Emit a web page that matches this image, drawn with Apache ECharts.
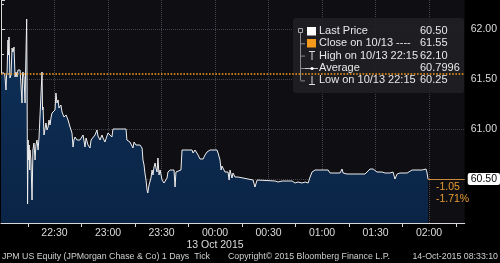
<!DOCTYPE html>
<html><head><meta charset="utf-8">
<script src="https://cdn.jsdelivr.net/npm/echarts@6/dist/echarts.min.js"></script>
<style>html,body{margin:0;padding:0;background:#000;}#c{width:500px;height:263px;}</style>
</head><body><div id="c"></div>
<script>
// minutes after 22:00, price
const priceTicks = [
[0,61.56],[0.6,61.55],[1.7,61.56],[2.2,61.53],[2.8,61.39],[3.1,61.53],[3.4,61.57],[3.9,61.89],[4.2,61.74],[4.5,61.92],[4.8,61.69],[5.0,61.51],[5.6,61.54],[6.2,61.81],[6.7,61.77],[7.3,61.82],[7.9,61.52],[8.4,61.57],[9.0,61.52],[9.5,61.59],[10.7,61.59],[11.2,61.57],[11.8,61.26],[12.1,61.54],[12.3,61.57],[12.9,61.52],[13.5,61.26],[13.7,61.49],[14.4,62.10],[14.6,61.50],[14.9,60.25],[15.2,60.89],[15.5,60.69],[15.8,60.84],[16.1,60.59],[16.3,60.79],[16.8,60.69],[17.4,60.29],[17.7,60.59],[17.9,60.79],[18.5,60.86],[19.1,60.69],[19.6,60.84],[20.2,60.89],[20.8,60.79],[21.3,60.91],[21.9,60.89],[22.4,60.92],[23.0,61.57],[23.3,61.19],[23.6,61.22],[24.1,60.94],[24.7,60.92],[25.2,61.06],[25.8,60.99],[26.4,61.02],[26.9,61.09],[27.5,61.04],[28.0,61.11],[28.6,61.16],[29.7,61.14],[30.3,61.19],[30.8,61.36],[31.4,61.26],[32.0,61.29],[32.5,61.21],[33.1,61.19],[33.6,61.24],[34.2,61.17],[34.8,61.19],[35.3,61.12],[36.5,61.14],[37.6,61.09],[38.7,61.02],[39.3,61.04],[39.8,60.96],[40.4,60.82],[40.9,60.89],[41.5,60.92],[42.6,60.89],[43.7,60.91],
[44.3,60.89],[45.4,60.91],[46.0,60.94],[47.1,60.82],[47.7,60.91],[48.8,60.84],[49.9,60.81],[50.5,60.89],[51.6,60.91],[52.7,60.94],[53.8,60.99],[54.4,60.93],[55.5,60.89],[56.6,60.94],[57.2,60.91],[58.3,60.87],[59.4,60.93],[60.0,60.96],[61.1,60.94],[62.2,60.92],[62.8,61.00],[70.1,61.00],[70.6,60.89],[71.2,60.91],[72.3,60.87],[72.9,60.89],[74.0,60.81],[74.6,60.87],[75.7,60.84],[76.8,60.82],[77.9,60.84],[79.1,60.81],[79.6,60.69],[80.2,60.64],[80.7,60.56],[81.3,60.49],[81.9,60.39],[82.3,60.36],[83.0,60.44],[83.5,60.42],[84.1,60.51],[84.7,60.59],[85.2,60.54],[85.8,60.62],[86.4,60.66],[86.9,60.61],[87.5,60.57],[88.0,60.71],[88.6,60.54],[89.2,60.59],[90.3,60.49],[91.4,60.46],[93.1,60.51],[93.6,60.57],[94.8,60.59],[95.9,60.57],[97.0,60.59],[97.6,60.42],[98.1,60.57],[98.7,60.59],[100.9,60.59],[101.5,60.79],[107.1,60.79],[107.7,60.76],[108.8,60.79],[109.9,60.79],[110.5,60.74],[111.6,60.70],[113.3,60.70],[114.4,60.74],[115.5,60.77],[117.2,60.79],[121.1,60.79],[121.7,60.76],[122.8,60.69],[123.4,60.59],[123.9,60.63],[124.5,60.62],[125.6,60.57],[126.2,60.59],[127.3,60.57],[127.9,60.49],[128.4,60.59],[129.5,60.51],[130.1,60.56],[131.2,60.52],[132.9,60.52],[134.0,60.54],[135.7,60.51],[136.8,60.49],[141.3,60.49],[142.4,60.42],[143.6,60.49],[144.1,60.48],[153.7,60.48],[155.3,60.47],[157.6,60.48],[163.2,60.48],[164.9,60.46],[166.5,60.47],[168.8,60.46],[170.5,60.47],[172.2,60.46],[173.3,60.52],[174.4,60.57],[176.1,60.59],[177.8,60.59],[178.9,60.57],[180.6,60.59],[183.4,60.59],[184.5,60.56],[190.1,60.56],[191.2,60.60],[191.8,60.56],[194.0,60.55],[204.1,60.55],[205.2,60.57],[206.9,60.60],[208.6,60.60],[210.8,60.57],[213.7,60.57],[215.3,60.56],[218.1,60.56],[219.8,60.57],[220.9,60.50],[222.1,60.55],[223.7,60.56],[227.7,60.56],[228.2,60.57],[230.5,60.59],[236.1,60.59],[237.2,60.60],[238.3,60.60],[238.9,60.56],[239.4,60.50]
];
const xTickMinutes = [30, 60, 90, 120, 150, 180, 210, 240];
const xTickLabels = ['22:30', '23:00', '23:30', '00:00\n13 Oct 2015', '00:30', '01:00', '01:30', '02:00'];
const yTickValues = [61.0, 61.5, 62.0];
const yTickLabels = ['61.00', '61.50', '62.00'];
const legendNames = ['Last Price', 'Close on 10/13 ----', 'High on 10/13 22:15', 'Average', 'Low on 10/13 22:15'];
const legendValues = ['60.50', '61.55', '62.10', '60.7996', '60.25'];
const closePrice = 61.55;
const footerTexts = ['JPM US Equity (JPMorgan Chase & Co) 1 Days  Tick', 'Copyright\u00a9 2015 Bloomberg Finance L.P.', '14-Oct-2015 08:33:10'];

const FONT = 'Liberation Sans';
const ORANGE = '#f39a1c';
const last = priceTicks[priceTicks.length - 1];
const lastPrice = last[1];
const chg = lastPrice - closePrice;
const chgPct = chg / closePrice * 100;
const X_MAX = 260;

const chart = echarts.init(document.getElementById('c'), null, {renderer: 'canvas'});

const rowY = [31, 43.3, 55.6, 68, 80.4];
const g = [];
g.push({type: 'rect', z: 1, shape: {x: 293, y: 18, width: 171, height: 75, r: 3}, style: {fill: 'rgba(30,30,36,0.92)'}});
g.push({type: 'rect', z: 3, shape: {x: 298.5, y: 28.5, width: 4, height: 4}, style: {fill: 'none', stroke: '#a8a8a8', lineWidth: 1}});
g.push({type: 'polyline', z: 3, shape: {points: [[300.5, 33], [300.5, rowY[4]]]}, style: {stroke: '#8a8a8a', lineWidth: 1}});
for (let i = 1; i < 5; i++) {
  g.push({type: 'polyline', z: 3, shape: {points: [[300.5, rowY[i] + 0.5], [305, rowY[i] + 0.5]]}, style: {stroke: '#8a8a8a', lineWidth: 1}});
}
g.push({type: 'rect', z: 3, shape: {x: 307, y: 27, width: 9, height: 8.5}, style: {fill: '#ffffff'}});
g.push({type: 'rect', z: 3, shape: {x: 307, y: 39, width: 9, height: 8.5}, style: {fill: ORANGE}});
g.push({type: 'polyline', z: 3, shape: {points: [[309, 51.5], [315, 51.5]]}, style: {stroke: '#dddddd', lineWidth: 1}});
g.push({type: 'polyline', z: 3, shape: {points: [[312, 51.5], [312, 60]]}, style: {stroke: '#dddddd', lineWidth: 1}});
g.push({type: 'polyline', z: 3, shape: {points: [[305, 68.5], [318, 68.5]]}, style: {stroke: '#cccccc', lineWidth: 1}});
g.push({type: 'circle', z: 3, shape: {cx: 312, cy: 68.5, r: 1.6}, style: {fill: '#ffffff'}});
g.push({type: 'polyline', z: 3, shape: {points: [[312, 76], [312, 84.5]]}, style: {stroke: '#dddddd', lineWidth: 1}});
g.push({type: 'polyline', z: 3, shape: {points: [[309, 84.5], [315, 84.5]]}, style: {stroke: '#dddddd', lineWidth: 1}});
for (let i = 0; i < 5; i++) {
  g.push({type: 'text', z: 3, style: {text: legendNames[i], x: 319, y: rowY[i], fill: '#e8e8e8', fontSize: 11, fontFamily: FONT, textAlign: 'left', textVerticalAlign: 'middle'}});
  g.push({type: 'text', z: 3, style: {text: legendValues[i], x: 420, y: rowY[i], fill: '#e8e8e8', fontSize: 11, fontFamily: FONT, textAlign: 'left', textVerticalAlign: 'middle'}});
}
g.push({type: 'text', style: {text: footerTexts[0], x: 2, y: 257, fill: '#d0d0d0', fontSize: 8.8, fontFamily: FONT, textAlign: 'left', textVerticalAlign: 'middle'}});
g.push({type: 'text', style: {text: footerTexts[1], x: 228, y: 257, fill: '#d0d0d0', fontSize: 8.8, fontFamily: FONT, textAlign: 'left', textVerticalAlign: 'middle'}});
g.push({type: 'text', style: {text: footerTexts[2], x: 498, y: 257, fill: '#d0d0d0', fontSize: 8.8, fontFamily: FONT, textAlign: 'right', textVerticalAlign: 'middle'}});

const option = {
  backgroundColor: '#000',
  animation: false,
  textStyle: {fontFamily: FONT},
  grid: {left: 1, right: 35, top: 0, bottom: 40, show: true, backgroundColor: '#0f0f13', borderWidth: 0},
  xAxis: {
    type: 'value', min: 0, max: X_MAX, interval: 30,
    axisLine: {show: true, lineStyle: {color: '#d8d8d8', width: 1}},
    axisTick: {show: false},
    minorTick: {show: true, splitNumber: 2, length: 4, lineStyle: {color: '#d8d8d8'}},
    splitLine: {show: true, showMinLine: false, showMaxLine: false, lineStyle: {type: 'dotted', color: '#44444c', width: 1}},
    axisLabel: {
      color: '#dcdcdc', fontSize: 10.5, fontFamily: FONT, margin: 4, lineHeight: 12,
      showMinLabel: false, showMaxLabel: false,
      formatter: function (v) { const i = xTickMinutes.indexOf(v); return i >= 0 ? xTickLabels[i] : ''; }
    }
  },
  yAxis: {
    type: 'value', position: 'right', min: 60.06, max: 62.29, splitNumber: 5,
    axisLine: {show: true, lineStyle: {color: '#d8d8d8', width: 1}},
    axisTick: {show: true, length: 4, lineStyle: {color: '#d8d8d8'}},
    minorTick: {show: true, splitNumber: 2, length: 3, lineStyle: {color: '#d8d8d8'}},
    splitLine: {show: true, showMinLine: false, showMaxLine: false, lineStyle: {type: 'dotted', color: '#44444c', width: 1}},
    axisLabel: {
      color: '#dcdcdc', fontSize: 10.5, fontFamily: FONT, margin: 6,
      showMinLabel: false, showMaxLabel: false,
      formatter: function (v) { const i = yTickValues.findIndex(t => Math.abs(t - v) < 1e-6); return i >= 0 ? yTickLabels[i] : ''; }
    }
  },
  graphic: {elements: g},
  series: [{
    type: 'line',
    data: priceTicks,
    symbol: 'none',
    lineStyle: {color: '#eeeeee', width: 1},
    areaStyle: {color: new echarts.graphic.LinearGradient(0, 0, 0, 1, [{offset: 0, color: '#0f3158'}, {offset: 1, color: '#0a2446'}]), opacity: 1},
    markLine: {
      silent: true, symbol: ['none', 'none'], animation: false,
      data: [
        {yAxis: closePrice, lineStyle: {type: 'dotted', color: ORANGE, width: 1.6}, label: {show: false}},
        [{coord: [last[0], lastPrice], lineStyle: {type: 'solid', color: '#c98a3e', width: 1},
          label: {show: true, position: 'end', distance: 3, formatter: lastPrice.toFixed(2), color: '#000', backgroundColor: '#ffffff', padding: [1, 3, 0, 3], borderRadius: 2, fontSize: 10.5, fontFamily: FONT}},
         {coord: [X_MAX, lastPrice]}]
      ]
    },
    markPoint: {
      silent: true, animation: false,
      data: [{coord: [last[0], lastPrice], symbol: 'circle', symbolSize: 0.1, itemStyle: {color: 'rgba(0,0,0,0)'},
        label: {show: true, position: [8, 2], align: 'left', verticalAlign: 'top', lineHeight: 12,
          formatter: chg.toFixed(2) + '\n' + chgPct.toFixed(2) + '%', color: '#e59b2e', fontSize: 10.5, fontFamily: FONT}}]
    }
  }]
};
chart.setOption(option);
</script></body></html>
